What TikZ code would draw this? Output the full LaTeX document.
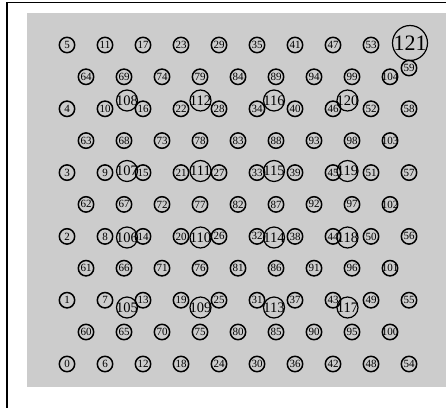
\documentclass[tikz,border=0pt]{standalone}
\usepackage{fontspec}
\setmainfont{Liberation Serif}
\definecolor{LatticeGray}{HTML}{CCCCCC}

\tikzset{
    site/.style={draw, circle, line width=1.5pt, inner sep=0pt, minimum size=15.4pt,
        font=\fontsize{11}{11}\selectfont},
    hub/.style={draw, circle, line width=1.2pt, inner sep=-2pt, minimum size=21pt,
        font=\fontsize{14.5}{14.5}\selectfont},
    root/.style={draw, circle, line width=1.2pt, inner sep=-1pt, minimum size=35pt,
        font=\fontsize{22}{22}\selectfont},
    cutlabel/.style={path picture={\node[font=\fontsize{11}{11}\selectfont]
        at (path picture bounding box.center) {#1};}}
}

\begin{document}
\begin{tikzpicture}[x=1pt, y=-1pt]
    % =========================================
    % 1. Frame and grey panel (cut by the page)
    % =========================================
    \clip (0,0) rectangle (446,407);
    \fill[LatticeGray] (27,13) rectangle (470,387);
    \draw[line width=1.5pt] (7,2.5) rectangle (480,440); % outer frame

    % =========================================
    % 2. Main lattice 0 .. 59 (6 per column)
    % =========================================
    \foreach \c in {0,...,9}
        \foreach \r in {0,...,5}{
            \pgfmathtruncatemacro{\idx}{6*\c+\r}
            \ifnum\idx=59\relax\else
                \node[site] (n\idx) at ({67+38*\c}, {364-63.8*\r}) {\idx};
            \fi
        }
    % 59 is pushed down by the big one
    \node[site] (n59) at (409,68) {59};

    % =========================================
    % 3. Shifted lattice 60 .. 104 (5 per column)
    % =========================================
    \foreach \c in {0,...,8}
        \foreach \r in {0,...,4}{
            \pgfmathtruncatemacro{\idx}{60+5*\c+\r}
            \ifnum\idx<100
                \node[site] (n\idx) at ({86+38*\c}, {332-63.8*\r}) {\idx};
            \else
                \node[site, cutlabel=\idx] (n\idx) at ({86+38*\c}, {332-63.8*\r}) {};
            \fi
        }

    % =========================================
    % 4. Big sites 105 .. 120 and 121
    % =========================================
    \foreach \k in {0,...,3}
        \foreach \yy [count=\j from 0] in {307.5,237.5,171,100.5}{
            \pgfmathtruncatemacro{\idx}{105+4*\k+\j}
            \node[hub] (n\idx) at ({127+73.5*\k}, \yy) {\idx};
        }
    \node[root] (n121) at (410,43) {121};

\end{tikzpicture}
\end{document}
